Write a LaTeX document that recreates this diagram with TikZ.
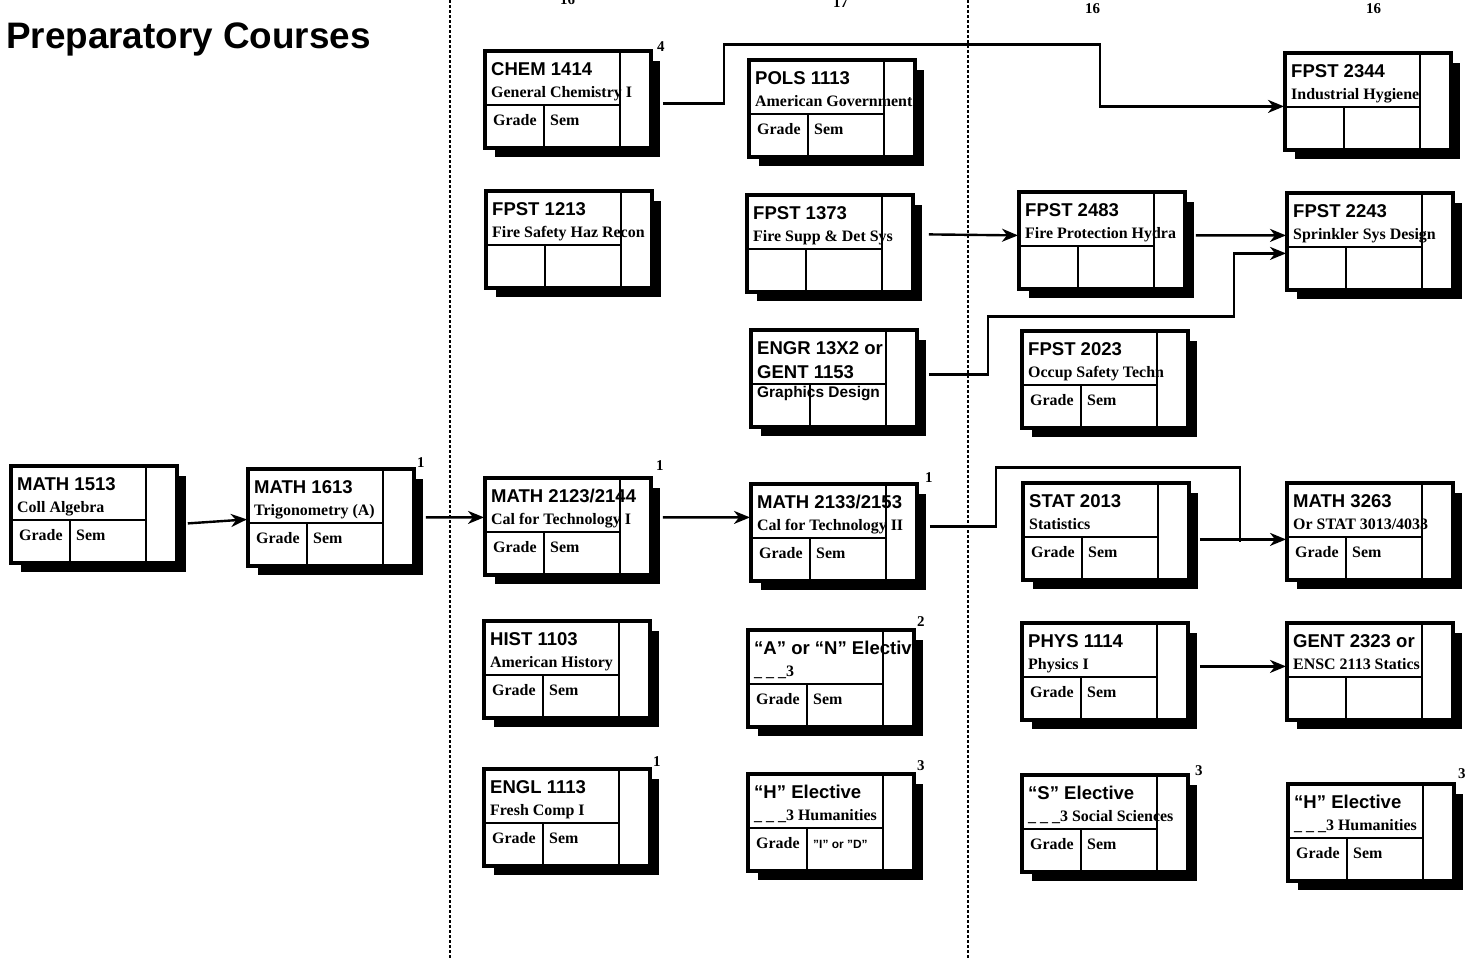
\documentclass[tikz,border=0pt]{standalone}
\usepackage{fontspec}
\setmainfont{Liberation Serif}
\setsansfont{Liberation Sans}
\usetikzlibrary{shadows,arrows.meta}

\tikzset{
  course/.style={draw, line width=2.8bp, fill=white, inner sep=0pt,
    minimum width=165bp, minimum height=96bp, anchor=north west,
    drop shadow={shadow xshift=10bp, shadow yshift=-10bp, fill=black, opacity=1}},
  coursecode/.style={anchor=base west, inner sep=0pt, font=\sffamily\bfseries\fontsize{18.6}{20}\selectfont},
  coursename/.style={anchor=base west, inner sep=0pt, font=\bfseries\fontsize{16}{18}\selectfont},
  gradecell/.style={coursename},
  credit/.style={anchor=base west, inner sep=0pt, font=\bfseries\fontsize{15}{17}\selectfont},
  heading/.style={anchor=base west, inner sep=0pt, font=\sffamily\bfseries\fontsize{37}{40}\selectfont},
  divider/.style={line width=2.8bp},
  semline/.style={line width=2.6bp, dash pattern=on 2.6bp off 2.4bp},
  link/.style={line width=2.4bp},
  linkarrow/.style={link, -{Stealth[length=16bp, width=13bp, inset=5bp]}}
}

% course box: name, top left, code, title, first cell, second cell
\newcommand{\coursebox}[6]{%
  \node[course] (#1) at (#2) {};
  \begin{scope}
    \clip (#1.north west) rectangle (#1.south east);
    \node[coursecode] (#1c) at ([shift={(7bp,-25bp)}]#1.north west) {#3};
    \node[coursename] (#1n) at ([shift={(7bp,-47bp)}]#1.north west) {#4};
  \end{scope}
  \node[gradecell] (#1g) at ([shift={(9bp,-75bp)}]#1.north west) {#5};
  \node[gradecell] (#1s) at ([shift={(66bp,-75bp)}]#1.north west) {#6};
  \draw[divider] ([yshift=-55bp]#1.north west) -- ++(136bp,0);
  \draw[divider] ([shift={(60bp,-55bp)}]#1.north west) -- ([xshift=60bp]#1.south west);
  \draw[divider] ([xshift=136bp]#1.north west) -- ([xshift=136bp]#1.south west);
  \draw[divider] (#1.north west) rectangle (#1.south east);
}

\begin{document}
\begin{tikzpicture}[x=1bp, y=-1bp]
  \useasboundingbox (0,0) rectangle (1467,959);

  % Heading and semester separators
  \node[heading] (title) at (6,48) {Preparatory Courses};
  \draw[semline] (450,0) -- (450,959);
  \draw[semline] (968,0) -- (968,959);

  % Semester hours
  \node[credit] (sem1) at (560,4)   {16};
  \node[credit] (sem2) at (833,7)   {17};
  \node[credit] (sem3) at (1085,13) {16};
  \node[credit] (sem4) at (1366,13) {16};

  % Preparatory courses
  \coursebox{m1513}{10,465}{MATH 1513}{Coll Algebra}{Grade}{Sem}
  \coursebox{m1613}{247,468}{MATH 1613}{Trigonometry (A)}{Grade}{Sem}

  % First semester
  \coursebox{chem}{484,50}{CHEM 1414}{General Chemistry I}{Grade}{Sem}
  \coursebox{f1213}{485,190}{FPST 1213}{Fire Safety Haz Recon}{}{}
  \coursebox{m2123}{484,477}{MATH 2123/2144}{Cal for Technology I}{Grade}{Sem}
  \coursebox{hist}{483,620}{HIST 1103}{American History}{Grade}{Sem}
  \coursebox{engl}{483,768}{ENGL 1113}{Fresh Comp I}{Grade}{Sem}

  % Second semester
  \coursebox{pols}{748,59}{POLS 1113}{American Government}{Grade}{Sem}
  \coursebox{f1373}{746,194}{FPST 1373}{Fire Supp \& Det Sys}{}{}
  \coursebox{engr}{750,329}{ENGR 13X2 or}{}{}{}
  \node[coursecode] (engrc2) at ([shift={(7bp,-49bp)}]engr.north west) {GENT 1153};
  \node[coursecode, font=\sffamily\bfseries\fontsize{15.5}{17}\selectfont] (engrn)
    at ([shift={(7bp,-68bp)}]engr.north west) {Graphics Design};
  \coursebox{m2133}{750,483}{MATH 2133/2153}{Cal for Technology II}{Grade}{Sem}
  \coursebox{elecan}{747,629}{“A” or “N” Elective}{\_ \_ \_3}{Grade}{Sem}
  \coursebox{elech}{747,773}{“H” Elective}{\_ \_ \_3 Humanities}{Grade}
    {\sffamily\bfseries\fontsize{12}{13}\selectfont "I" or "D"}

  % Third semester
  \coursebox{f2483}{1018,191}{FPST 2483}{Fire Protection Hydra}{}{}
  \coursebox{f2023}{1021,330}{FPST 2023}{Occup Safety Techn}{Grade}{Sem}
  \coursebox{stat}{1022,482}{STAT 2013}{Statistics}{Grade}{Sem}
  \coursebox{phys}{1021,622}{PHYS 1114}{Physics I}{Grade}{Sem}
  \coursebox{elecs}{1021,774}{“S” Elective}{\_ \_ \_3 Social Sciences}{Grade}{Sem}

  % Fourth semester
  \coursebox{f2344}{1284,52}{FPST 2344}{Industrial Hygiene}{}{}
  \coursebox{f2243}{1286,192}{FPST 2243}{Sprinkler Sys Design}{}{}
  \coursebox{m3263}{1286,482}{MATH 3263}{Or STAT 3013/4033}{Grade}{Sem}
  \coursebox{gent}{1286,622}{GENT 2323 or}{ENSC 2113 Statics}{}{}
  \coursebox{elech2}{1287,783}{“H” Elective}{\_ \_ \_3 Humanities}{Grade}{Sem}

  % Credit hours
  \foreach \pos/\num [count=\i] in {{657,51}/4, {417,467}/1, {656,470}/1,
      {925,482}/1, {917,626}/2, {653,766}/1, {917,770}/3, {1195,775}/3, {1458,778}/3}
    \node[credit] (cr\i) at (\pos) {\num};

  % Prerequisites
  \draw[linkarrow] ([xshift=10bp,yshift=-9bp]m1513.east) -- ([yshift=-2bp]m1613.west);
  \draw[linkarrow] ([xshift=11bp]m1613.east) -- ([yshift=9bp]m2123.west);
  \draw[linkarrow] ([xshift=11bp,yshift=9bp]m2123.east) -- ([yshift=15bp]m2133.west);
  \coordinate (join) at ([xshift=50bp,yshift=-11bp]stat.east);
  \draw[link] ([xshift=12bp,yshift=6bp]m2133.east) -- ++(66,0) -- ++(0,-59) -| (join);
  \draw[linkarrow] ([xshift=10bp,yshift=-8bp]stat.east) -- ([yshift=-8bp]m3263.west);
  \draw[linkarrow] ([xshift=11bp,yshift=-4bp]chem.east) -- ++(61,0) -- ++(0,-59)
    -- ++(376,0) |- ([yshift=-5bp]f2344.west);
  \draw[linkarrow] ([xshift=15bp,yshift=9bp]f1373.east) -- ([yshift=5bp]f2483.west);
  \draw[linkarrow] ([xshift=10bp,yshift=5bp]f2483.east) -- ([yshift=6bp]f2243.west);
  \draw[linkarrow] ([xshift=11bp,yshift=4bp]engr.east) -- ++(59,0) -- ++(0,-58)
    -- ++(246,0) |- ([yshift=-12bp]f2243.west);
  \draw[linkarrow] ([xshift=11bp,yshift=5bp]phys.east) -- ([yshift=5bp]gent.west);

\end{tikzpicture}
\end{document}
